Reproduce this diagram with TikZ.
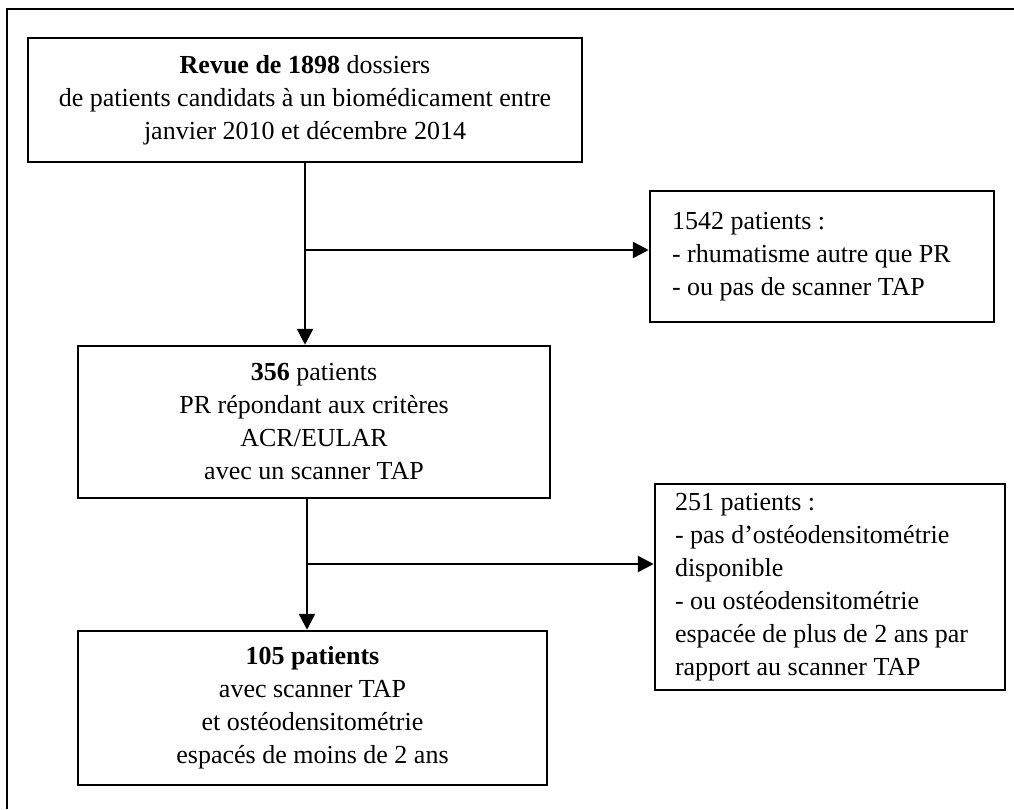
\documentclass[tikz,border=0pt]{standalone}
\usepackage{fontspec}
\setmainfont{Liberation Serif}
\usetikzlibrary{arrows.meta}

\begin{document}
\begin{tikzpicture}[x=1pt,y=-1pt,>={Triangle[length=16pt,width=16pt]},
	box/.style={draw,line width=2.5pt,align=center,inner sep=0pt,
		font=\fontsize{26}{33}\selectfont},
	listbox/.style={box,align=flush left,inner ysep=0pt},
	link/.style={line width=2.5pt}]

\useasboundingbox (0,0) rectangle (1014,809);

% frame
\draw[line width=2.5pt] (1014,9)--(7,9)--(7,809);

\node[box,minimum width=554pt,minimum height=124pt] (revue) at (305,100)
	{\textbf{Revue de 1898} dossiers\\de patients candidats à un biomédicament entre\\janvier 2010 et décembre 2014};
\node[listbox,text width=300pt,inner xsep=22pt,minimum height=131pt] (excl1) at (822,256.5)
	{1542 patients :\\- rhumatisme autre que PR\\- ou pas de scanner TAP};
\node[box,minimum width=472pt,minimum height=152pt] (pr) at (314,422)
	{\textbf{356} patients\\PR répondant aux critères\\ACR/EULAR\\avec un scanner TAP};
\node[listbox,text width=310pt,inner xsep=20pt,minimum height=206pt] (excl2) at (830,587)
	{251 patients :\\- pas d’ostéodensitométrie\\disponible\\- ou ostéodensitométrie\\espacée de plus de 2 ans par\\rapport au scanner TAP};
\node[box,minimum width=469pt,minimum height=154pt] (res) at (312.5,708)
	{\textbf{105 patients}\\avec scanner TAP\\et ostéodensitométrie\\espacés de moins de 2 ans};

\coordinate (b1) at (305,250);
\coordinate (b2) at (307,564);

\draw[link,->] (revue.south -| b1)--(b1 |- pr.north);
\draw[link,->] (b1)--(b1 -| excl1.west);
\draw[link,->] (pr.south -| b2)--(b2 |- res.north);
\draw[link,->] (b2)--(b2 -| excl2.west);

\end{tikzpicture}
\end{document}
